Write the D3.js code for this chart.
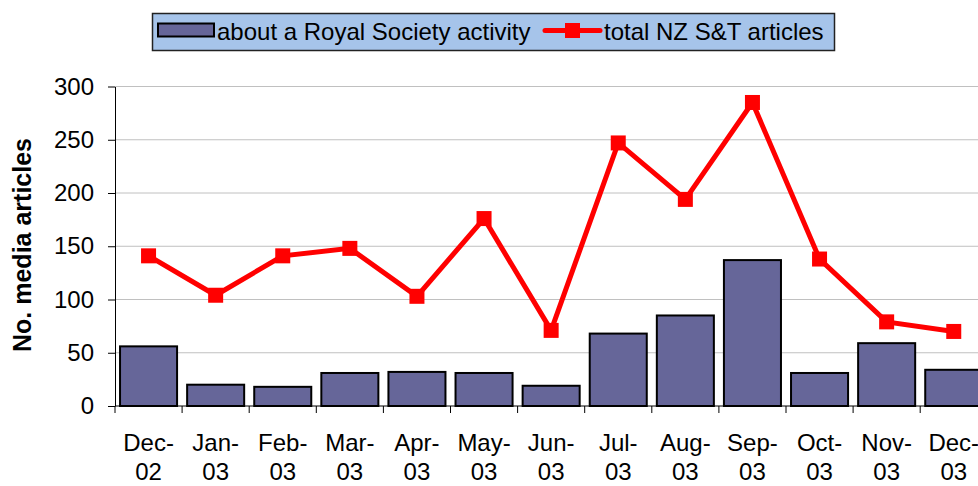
<!DOCTYPE html>
<html><head><meta charset="utf-8">
<script src="https://cdn.jsdelivr.net/npm/d3@7/dist/d3.min.js"></script>
<style>body{margin:0;background:#fff}svg{display:block;font-family:Arial,"Liberation Sans",sans-serif}</style>
</head><body>
<svg id="c" width="978" height="486"></svg>
<script>
const categories = ["Dec-02","Jan-03","Feb-03","Mar-03","Apr-03","May-03","Jun-03","Jul-03","Aug-03","Sep-03","Oct-03","Nov-03","Dec-03"];
const royalSociety = [56,20,18,31,32,31,19,68,85,137,31,59,34];
const totalNZ = [141,104,141,148,103,176,71,247,194,285,138,79,70];
const yTicks = [0,50,100,150,200,250,300];
const seriesNames = ["about a Royal Society activity","total NZ S&T articles"];

(function () {
const svg = d3.select("#c");
const pLeft = 115, pRight = 987.3, pTop = 86.5, pBottom = 406;
const x = d3.scaleBand().domain(categories).range([pLeft, pRight]).paddingInner(0.15).paddingOuter(0.075);
const y = d3.scaleLinear().domain([0, 300]).range([pBottom, pTop]);
const step = x.step();

// gridlines
svg.append("g").selectAll("line").data(yTicks.filter(d => d > 0)).join("line")
  .attr("x1", pLeft).attr("x2", 978).attr("y1", d => y(d)).attr("y2", d => y(d))
  .attr("stroke", "#c0c0c0").attr("stroke-width", 1);

// bars
svg.append("g").selectAll("rect").data(categories).join("rect")
  .attr("x", d => x(d)).attr("width", x.bandwidth())
  .attr("y", (d, i) => y(royalSociety[i])).attr("height", (d, i) => y(0) - y(royalSociety[i]))
  .attr("fill", "#666699").attr("stroke", "#000").attr("stroke-width", 2);

// y axis
const yAxis = svg.append("g").attr("transform", `translate(${pLeft},0)`)
  .call(d3.axisLeft(y).tickValues(yTicks).tickSize(7).tickPadding(14).tickSizeOuter(0));
yAxis.select(".domain").attr("stroke", "#000");
yAxis.selectAll(".tick line").attr("stroke", "#000");
yAxis.selectAll(".tick text").attr("font-size", 24).attr("font-family", "Arial, 'Liberation Sans', sans-serif").attr("fill", "#000");

// x axis line and ticks
svg.append("line").attr("x1", pLeft).attr("x2", 978).attr("y1", pBottom).attr("y2", pBottom).attr("stroke", "#000");
svg.append("g").selectAll("line").data(d3.range(categories.length + 1)).join("line")
  .attr("x1", i => pLeft + i * step).attr("x2", i => pLeft + i * step)
  .attr("y1", pBottom).attr("y2", pBottom + 7).attr("stroke", "#000");

// x labels
const xl = svg.append("g").selectAll("text").data(categories).join("text")
  .attr("text-anchor", "middle").attr("font-size", 24).attr("fill", "#000");
xl.append("tspan").attr("x", d => x(d) + x.bandwidth() / 2).attr("y", 451).text(d => d.split("-")[0] + "-");
xl.append("tspan").attr("x", d => x(d) + x.bandwidth() / 2).attr("y", 480).text(d => d.split("-")[1]);

// line
const line = d3.line().x((d, i) => x(categories[i]) + x.bandwidth() / 2).y(d => y(d));
svg.append("path").datum(totalNZ).attr("d", line).attr("fill", "none")
  .attr("stroke", "#ff0000").attr("stroke-width", 5).attr("stroke-linejoin", "miter");
svg.append("g").selectAll("rect").data(totalNZ).join("rect")
  .attr("x", (d, i) => x(categories[i]) + x.bandwidth() / 2 - 7.5)
  .attr("y", d => y(d) - 7.5).attr("width", 15).attr("height", 15).attr("fill", "#ff0000");

// y title
svg.append("text").attr("transform", "translate(31,245) rotate(-90)")
  .attr("text-anchor", "middle").attr("font-size", 25).attr("font-weight", "bold").attr("fill", "#000")
  .text("No. media articles");

// legend
const lg = svg.append("g");
lg.append("rect").attr("x", 152.5).attr("y", 13.5).attr("width", 682).attr("height", 37)
  .attr("fill", "#a6c4ea").attr("stroke", "#222").attr("stroke-width", 1.5);
lg.append("rect").attr("x", 158).attr("y", 23.5).attr("width", 56).attr("height", 13)
  .attr("fill", "#666699").attr("stroke", "#000").attr("stroke-width", 2);
lg.append("text").attr("x", 217).attr("y", 40).attr("font-size", 24).attr("fill", "#000").text(seriesNames[0]);
lg.append("line").attr("x1", 545).attr("x2", 600).attr("y1", 30.5).attr("y2", 30.5)
  .attr("stroke", "#ff0000").attr("stroke-width", 5).attr("stroke-linecap", "round");
lg.append("rect").attr("x", 565).attr("y", 23).attr("width", 15).attr("height", 15).attr("fill", "#ff0000");
lg.append("text").attr("x", 604).attr("y", 40).attr("font-size", 24).attr("fill", "#000").text(seriesNames[1]);
})();
</script>
</body></html>
